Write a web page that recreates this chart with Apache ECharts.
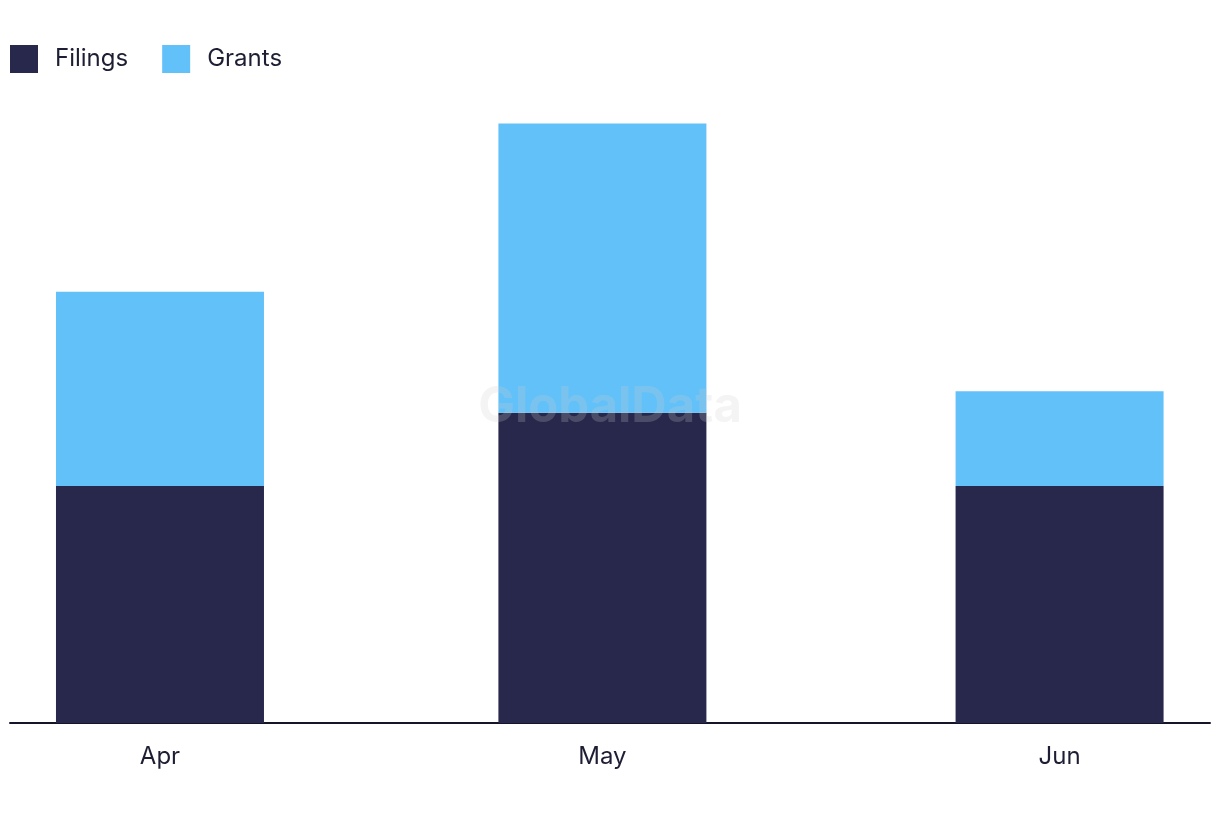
<!DOCTYPE html>
<html>
<head>
<meta charset="utf-8">
<script src="https://cdn.jsdelivr.net/npm/echarts@6/dist/echarts.min.js"></script>
<style>
html,body{margin:0;padding:0;background:#fff;}
#chart{width:1220px;height:822px;}
</style>
</head>
<body>
<div id="chart"></div>
<script>
// Data
const categories = ['2024-04-01', '2024-05-01', '2024-06-01'];
const monthLabels = ['Apr', 'May', 'Jun'];
const filings = [10, 13.1, 10];
const grants = [8.2, 12.2, 4];

const DAY = 86400000;
const ts = categories.map(d => Date.parse(d + 'T00:00:00Z'));
// day offsets from the first month (keeps true calendar spacing)
const days = ts.map(t => Math.round((t - ts[0]) / DAY));
const fmt = v => {
  const i = days.findIndex(d => Math.abs(d - v) < 0.5);
  return i >= 0 ? monthLabels[i] : '';
};

const chart = echarts.init(document.getElementById('chart'));
chart.setOption({
  animation: false,
  textStyle: { fontFamily: 'Inter' },
  legend: {
    left: 10, top: 45, padding: 0,
    itemWidth: 28, itemHeight: 28, itemGap: 34,
    icon: 'rect',
    textStyle: { fontSize: 24, color: '#1d1d33', fontFamily: 'Inter', padding: [0, 0, 0, 12] },
    data: ['Filings', 'Grants']
  },
  grid: { left: 10, right: 10, top: 107, bottom: 99, containLabel: false },
  xAxis: {
    type: 'value',
    min: days[0] - 10.17,
    max: days[2] + 10.2,
    axisLine: { show: true, onZero: false, lineStyle: { color: '#15152a', width: 2 } },
    axisTick: { show: false },
    splitLine: { show: false },
    axisLabel: {
      customValues: days,
      formatter: fmt,
      fontSize: 24, color: '#1d1d33', fontFamily: 'Inter', margin: 22
    }
  },
  yAxis: {
    type: 'value', min: 0, max: 26,
    show: false, splitLine: { show: false }
  },
  graphic: [{
    type: 'text', left: 'center', top: 383, z: 100, silent: true,
    style: { text: 'GlobalData', fontSize: 49, fontWeight: 'bold', fontFamily: 'Inter', fill: 'rgba(205,205,205,0.22)' }
  }],
  series: [
    {
      name: 'Filings', type: 'bar', stack: 'total', barWidth: 208,
      itemStyle: { color: '#27284b' },
      encode: { x: 1, y: 0 },
      data: days.map((d, i) => [filings[i], d])
    },
    {
      name: 'Grants', type: 'bar', stack: 'total', barWidth: 208,
      itemStyle: { color: '#63c1f9' },
      encode: { x: 1, y: 0 },
      data: days.map((d, i) => [grants[i], d])
    }
  ]
});
</script>
</body>
</html>
